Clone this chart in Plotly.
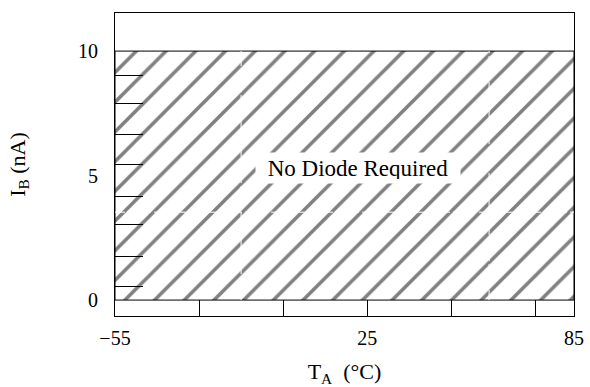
import plotly.graph_objects as go

# Horizontal scale is schematic: positions are in equal divisions of the
# temperature axis, with the labelled temperatures placed on them.
x_div_ticks = [1, 2, 3, 4, 5]
x_label_pos = [0, 3, 5.46]
x_label_text = ["\u221255", "25", "85"]
x_range = [0, 5.46]

y_major = [0, 5, 10]
y_minor = [0.56, 1.73, 3.05, 4.18, 5.46, 6.67, 7.91, 9.0]
y_range = [-0.64, 11.53]

# Operating region where no diode is required
region_x = [0, 5.46, 5.46, 0, 0]
region_y = [0, 0, 10, 10, 0]
region_label = "No Diode Required"
label_pos = (2.89, 5.3)

# Light dashed guides drawn over the hatch
guide_h = [3.53]
guide_v = [1.5, 4.45]

serif = "Liberation Serif, Times New Roman, serif"

fig = go.Figure()

fig.add_trace(go.Scatter(
    x=region_x, y=region_y, mode="lines", fill="toself",
    line=dict(color="black", width=1),
    fillcolor="white",
    fillpattern=dict(shape="/", size=21, solidity=0.17,
                     fgcolor="#808080", fgopacity=1,
                     bgcolor="white", fillmode="replace"),
    hoverinfo="skip", showlegend=False,
))

for gy in guide_h:
    fig.add_trace(go.Scatter(
        x=[region_x[0], region_x[1]], y=[gy, gy], mode="lines",
        line=dict(color="white", width=1, dash="10px,3px"),
        hoverinfo="skip", showlegend=False,
    ))
for gx in guide_v:
    fig.add_trace(go.Scatter(
        x=[gx, gx], y=[region_y[0], region_y[2]], mode="lines",
        line=dict(color="white", width=1, dash="10px,3px"),
        hoverinfo="skip", showlegend=False,
    ))

fig.add_annotation(
    x=label_pos[0], y=label_pos[1], text=region_label, showarrow=False,
    font=dict(family=serif, size=23, color="black"),
    bgcolor="white", borderpad=4, width=196, height=22,
)

fig.update_layout(
    width=590, height=387,
    margin=dict(l=115, r=16, t=13, b=71),
    paper_bgcolor="white", plot_bgcolor="white",
    font=dict(family=serif, size=20, color="black"),
    showlegend=False,
)

fig.update_xaxes(
    range=x_range, showgrid=False, zeroline=False,
    showline=True, linecolor="black", linewidth=1, mirror=True,
    tickmode="array", tickvals=x_label_pos, ticktext=x_label_text,
    ticks="", tickfont=dict(family=serif, size=20), ticklabelstandoff=4,
    minor=dict(tickmode="array", tickvals=x_div_ticks, ticks="inside",
               ticklen=16, tickwidth=1, tickcolor="black", showgrid=False),
    title=dict(text="T<sub>A</sub>  (\u00b0C)", standoff=17,
               font=dict(family=serif, size=22)),
    automargin=False,
)

fig.update_yaxes(
    range=y_range, showgrid=False, zeroline=False,
    showline=True, linecolor="black", linewidth=1, mirror=True,
    tickmode="array", tickvals=y_major, ticktext=[str(v) for v in y_major],
    ticks="", tickfont=dict(family=serif, size=20), ticklabelstandoff=12,
    minor=dict(tickmode="array", tickvals=y_minor, ticks="inside",
               ticklen=28, tickwidth=1, tickcolor="black", showgrid=False),
    title=dict(text="I<sub>B</sub> (nA)", standoff=46,
               font=dict(family=serif, size=22)),
    automargin=False,
)

fig.write_html("out.html")
